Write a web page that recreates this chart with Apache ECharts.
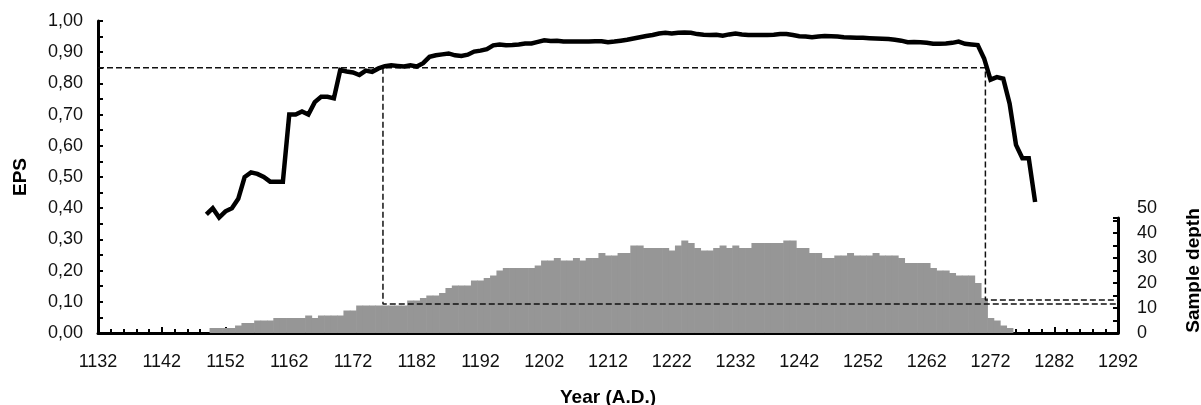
<!DOCTYPE html>
<html>
<head>
<meta charset="utf-8">
<script src="https://cdn.jsdelivr.net/npm/echarts@6/dist/echarts.min.js"></script>
<style>
  html, body { margin: 0; padding: 0; background: #fff; }
  #chart { width: 1201px; height: 405px; }
</style>
</head>
<body>
<div id="chart"></div>
<script>
// EPS, one value per year starting at epsFirstYear
var epsFirstYear = 1149;
var epsValues = [
  0.38, 0.40, 0.37, 0.39, 0.40, 0.43, 0.50, 0.515, 0.51, 0.50,
  0.485, 0.485, 0.485, 0.70, 0.70, 0.71, 0.70, 0.74, 0.757, 0.757,
  0.752, 0.843, 0.838, 0.835, 0.827, 0.841, 0.837, 0.848, 0.855, 0.858,
  0.856, 0.854, 0.858, 0.854, 0.865, 0.885, 0.89, 0.893, 0.896, 0.89,
  0.888, 0.892, 0.902, 0.905, 0.91, 0.922, 0.925, 0.922, 0.923, 0.925,
  0.928, 0.928, 0.933, 0.938, 0.936, 0.937, 0.934, 0.934, 0.934, 0.934,
  0.934, 0.935, 0.935, 0.932, 0.934, 0.937, 0.94, 0.944, 0.948, 0.952,
  0.955, 0.96, 0.962, 0.96, 0.962, 0.963, 0.962, 0.958, 0.956, 0.955,
  0.956, 0.953, 0.957, 0.96, 0.957, 0.955, 0.955, 0.955, 0.955, 0.956,
  0.958, 0.958, 0.955, 0.951, 0.95, 0.948, 0.95, 0.952, 0.951, 0.95,
  0.948, 0.947, 0.946, 0.946, 0.945, 0.944, 0.943, 0.942, 0.94, 0.937,
  0.932, 0.933, 0.932, 0.93, 0.927, 0.927, 0.928, 0.93, 0.934, 0.927,
  0.925, 0.923, 0.88, 0.812, 0.82, 0.815, 0.735, 0.603, 0.56, 0.56,
  0.42
];

// sample depth, one value per year starting at depthFirstYear
var depthFirstYear = 1150;
var depthValues = [
  2, 2, 2, 2, 3, 4, 4, 5, 5, 5,
  6, 6, 6, 6, 6, 7, 6, 7, 7, 7,
  7, 9, 9, 11, 11, 11, 11, 11, 11, 11,
  11, 13, 13, 14, 15, 15, 16, 18, 19, 19,
  19, 21, 21, 22, 23, 25, 26, 26, 26, 26,
  26, 27, 29, 29, 30, 29, 29, 30, 29, 30,
  30, 32, 31, 31, 32, 32, 35, 35, 34, 34,
  34, 34, 33, 35, 37, 36, 34, 33, 33, 34,
  35, 34, 35, 34, 34, 36, 36, 36, 36, 36,
  37, 37, 34, 34, 32, 32, 30, 30, 31, 31,
  32, 31, 31, 31, 32, 31, 31, 31, 30, 28,
  28, 28, 28, 26, 25, 25, 24, 23, 23, 23,
  20, 14, 6, 5, 3, 2
];

// EPS 0.85 cut-off and the reference lines
var epsCut = 0.85;
var cutStartYear = 1176.7;
var cutEndYear = 1271.2;
var startDepthLevel = 0.093;
var endDepthLevel = 0.106;

var yearMin = 1132;
var yearMax = 1292;

var epsData = epsValues.map(function (v, i) { return [epsFirstYear + i, v]; });
var depthData = depthValues.map(function (v, i) { return [depthFirstYear + i, v]; });

var font = "'Liberation Sans', Arial, sans-serif";
var black = '#000';

var chart = echarts.init(document.getElementById('chart'));

var hiddenX = function (idx) {
  return {
    type: 'value', gridIndex: idx, min: yearMin, max: yearMax, interval: 10,
    show: false
  };
};

var option = {
  backgroundColor: '#fff',
  animation: false,
  grid: [
    { left: 98, right: 83, top: 21, bottom: 72, containLabel: false, outerBoundsMode: 'none' },
    { left: 98, right: 83, top: 208, bottom: 72, containLabel: false, outerBoundsMode: 'none' },
    { left: 98, right: 83, top: 218, bottom: 72, containLabel: false, outerBoundsMode: 'none' }
  ],
  xAxis: [
    {
      type: 'value', gridIndex: 0, min: yearMin, max: yearMax, interval: 10,
      name: 'Year (A.D.)', nameLocation: 'middle', nameGap: 55,
      nameTextStyle: { fontFamily: font, fontSize: 19, fontWeight: 'bold', color: black },
      axisLine: { show: true, lineStyle: { color: black, width: 3 } },
      axisTick: { show: true, inside: true, length: 6, lineStyle: { color: black, width: 2 } },
      minorTick: { show: true, splitNumber: 5, length: 4, lineStyle: { color: black, width: 2 } },
      axisLabel: {
        fontFamily: font, fontSize: 18, color: '#111', margin: 20,
        formatter: function (v) { return String(v); }
      },
      splitLine: { show: false }
    },
    hiddenX(1),
    hiddenX(2)
  ],
  yAxis: [
    {
      type: 'value', gridIndex: 0, min: 0, max: 1, interval: 0.1,
      name: 'EPS', nameLocation: 'middle', nameGap: 68, nameRotate: 90,
      nameTextStyle: { fontFamily: font, fontSize: 19, fontWeight: 'bold', color: black },
      axisLine: { show: true, lineStyle: { color: black, width: 3 } },
      axisTick: { show: true, inside: true, length: 5, lineStyle: { color: black, width: 2 } },
      minorTick: { show: true, splitNumber: 2, length: 5, lineStyle: { color: black, width: 2 } },
      axisLabel: {
        fontFamily: font, fontSize: 18, color: '#111', margin: 15,
        formatter: function (v) { return v.toFixed(2).replace('.', ','); }
      },
      splitLine: { show: false }
    },
    {
      type: 'value', gridIndex: 1, position: 'right', min: 0, max: 50, interval: 10,
      name: 'Sample depth', nameLocation: 'middle', nameGap: 66, nameRotate: 90,
      nameTextStyle: { fontFamily: font, fontSize: 19, fontWeight: 'bold', color: black },
      axisLine: { show: false },
      axisTick: { show: false },
      axisLabel: { fontFamily: font, fontSize: 18, color: '#111', margin: 19 },
      splitLine: { show: false }
    },
    {
      type: 'value', gridIndex: 2, position: 'right', min: 0, max: 46, interval: 5,
      axisLine: { show: true, lineStyle: { color: black, width: 3 } },
      axisTick: { show: true, inside: true, length: 5, lineStyle: { color: black, width: 2 } },
      axisLabel: { show: false },
      splitLine: { show: false }
    }
  ],
  series: [
    {
      name: 'Sample depth',
      type: 'custom',
      xAxisIndex: 1, yAxisIndex: 1,
      data: depthData,
      z: 1,
      renderItem: function (params, api) {
        var yr = api.value(0);
        var p0 = api.coord([yr - 0.5, 0]);
        var p1 = api.coord([yr + 0.5, api.value(1)]);
        return {
          type: 'rect',
          shape: { x: p0[0], y: p1[1], width: p1[0] - p0[0] + 0.6, height: p0[1] - p1[1] },
          style: { fill: '#969696' }
        };
      }
    },
    {
      name: 'cut-end',
      type: 'line',
      xAxisIndex: 0, yAxisIndex: 0,
      data: [[yearMin, epsCut], [cutEndYear, epsCut], [cutEndYear, endDepthLevel], [yearMax, endDepthLevel]],
      showSymbol: false, silent: true, z: 3,
      lineStyle: { color: '#111', width: 1.5, type: [6, 3] }
    },
    {
      name: 'cut-start',
      type: 'line',
      xAxisIndex: 0, yAxisIndex: 0,
      data: [[cutStartYear, epsCut], [cutStartYear, startDepthLevel], [yearMax, startDepthLevel]],
      showSymbol: false, silent: true, z: 3,
      lineStyle: { color: '#111', width: 1.5, type: [6, 3] }
    },
    {
      name: 'EPS',
      type: 'line',
      xAxisIndex: 0, yAxisIndex: 0,
      data: epsData,
      showSymbol: false, z: 4,
      lineStyle: { color: black, width: 4.5, join: 'miter' }
    }
  ]
};

chart.setOption(option);
</script>
</body>
</html>
